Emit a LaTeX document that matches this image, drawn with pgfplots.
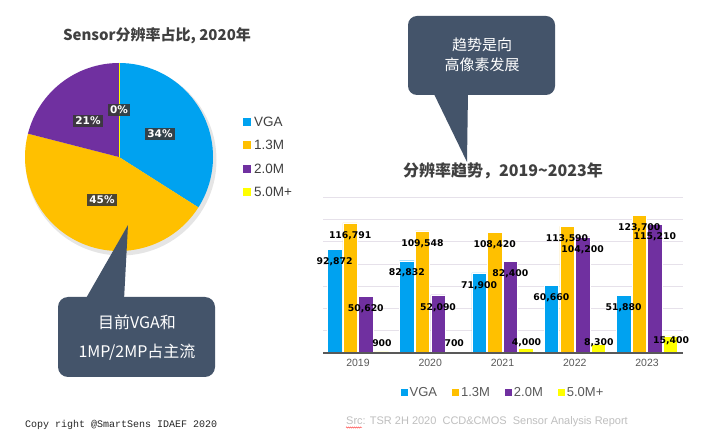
\documentclass[border=0pt]{standalone}
\usepackage{fontspec}
\setmainfont{Liberation Sans}
\newfontfamily\cjk{Noto Sans CJK SC}
\newfontfamily\dejavu{DejaVu Sans}
\newfontfamily\mono{Liberation Mono}
\usepackage{pgfplots}
\pgfplotsset{compat=1.18}
\usetikzlibrary{decorations.pathmorphing}
\definecolor{vga}{HTML}{00A2F0}
\definecolor{mp13}{HTML}{FFC000}
\definecolor{mp20}{HTML}{7030A0}
\definecolor{mp50}{HTML}{FFFF00}
\definecolor{callc}{HTML}{44546A}
\definecolor{textc}{HTML}{404040}
\definecolor{tickc}{HTML}{595959}
\definecolor{gridc}{HTML}{E6E1EA}
\definecolor{srcc}{HTML}{BFBFBF}
\begin{document}
\begin{tikzpicture}
\useasboundingbox (0,0) rectangle (720pt,439pt);
\fill[white] (0,0) rectangle (720pt,439pt);
% ---------- pie chart (2020 shares, %) ----------
\fill[black,opacity=0.10] (121pt,279pt) circle (95.5pt);
\fill[vga]  (119pt,282pt) -- ++(90:94pt) arc[start angle=90, end angle=-32.4, radius=94pt] -- cycle;
\fill[mp13] (119pt,282pt) -- ++(-32.4:94pt) arc[start angle=-32.4, end angle=-194.4, radius=94pt] -- cycle;
\fill[mp20] (119pt,282pt) -- ++(-194.4:94pt) arc[start angle=-194.4, end angle=-270, radius=94pt] -- cycle;
\draw[mp50, line width=1pt] (119pt,282pt) -- ++(90:94pt);
\tikzset{pielbl/.style={fill=black!78, fill opacity=0.9, text opacity=1, text=white, font=\dejavu\bfseries\fontsize{10.5}{12}\selectfont, inner xsep=2pt, inner ysep=1.8pt}}
\node[pielbl] at (160pt,305pt) {34\%};
\node[pielbl] at (102pt,239pt) {45\%};
\node[pielbl] at (88pt,318pt) {21\%};
\node[pielbl] at (119pt,329pt) {0\%};
\node[font=\cjk\bfseries\fontsize{15}{18}\selectfont, text=textc] at (157pt,403pt) {Sensor分辨率占比, 2020年};
% pie legend
\fill[vga]  (243pt,313pt) rectangle (251pt,321pt);
\fill[mp13] (243pt,290pt) rectangle (251pt,298pt);
\fill[mp20] (243pt,266pt) rectangle (251pt,274pt);
\fill[mp50] (243pt,243pt) rectangle (251pt,251pt);
\tikzset{plg/.style={anchor=west, inner sep=0pt, text=textc, font=\fontsize{13.5}{15}\selectfont}}
\node[plg] at (254pt,317pt) {VGA};
\node[plg] at (254pt,294pt) {1.3M};
\node[plg] at (254pt,270pt) {2.0M};
\node[plg] at (254pt,247pt) {5.0M+};
% ---------- callouts ----------
\fill[callc, rounded corners=9pt] (408pt,344pt) rectangle (555pt,423pt);
\fill[callc] (433pt,347pt) -- (468pt,347pt) -- (467pt,277pt) -- cycle;
\node[text=white, font=\cjk\fontsize{15}{20}\selectfont, align=center] at (482pt,384pt) {趋势是向\\高像素发展};
\fill[callc, rounded corners=10pt] (58pt,62pt) rectangle (215pt,142pt);
\fill[callc] (85pt,139pt) -- (124pt,139pt) -- (128pt,214pt) -- cycle;
\node[text=white, font=\cjk\fontsize{16}{29}\selectfont, align=center] at (137pt,101.5pt) {目前VGA和\\1MP/2MP占主流};
% ---------- bar chart ----------
\node[font=\cjk\bfseries\fontsize{16}{19}\selectfont, text=textc] at (503pt,268pt) {分辨率趋势，2019\textasciitilde 2023年};
\begin{axis}[
  at={(323pt,86pt)}, anchor=south west, scale only axis,
  width=360pt, height=156pt,
  ybar=1.1pt, bar width=0.2,
  xmin=-0.484, xmax=4.498, ymin=0, ymax=140000,
  xtick=data, xticklabels={2019,2020,2021,2022,2023},
  ytick={0,20000,40000,60000,80000,100000,120000,140000}, yticklabels={},
  scaled y ticks=false,
  ymajorgrids, grid style={draw=gridc, line width=0.7pt},
  axis x line*=bottom, axis y line*=left,
  y axis line style={draw=none},
  x axis line style={draw=none},
  major tick length=0pt,
  xticklabel style={font=\fontsize{10.5}{12}\selectfont, text=tickc, yshift=-3pt},
  /pgf/number format/assume math mode=true,
  /pgf/number format/fixed, /pgf/number format/precision=0,
  /pgf/number format/1000 sep={,},
  nodes near coords style={font=\dejavu\bfseries\fontsize{9.3}{11}\selectfont, text=black, anchor=center, yshift=-12.5pt},
  clip=false,
  legend columns=4,
  legend style={at={(0.5,-0.256)}, anchor=center, draw=none, fill=none,
    font=\fontsize{13}{15}\selectfont, text=tickc,
    /tikz/every even column/.append style={column sep=13pt}},
  legend image code/.code={\fill[#1, draw=none] (0pt,-3.5pt) rectangle (7pt,3.5pt);},
]
\addplot[fill=vga, draw=white, line width=0.4pt, nodes near coords] coordinates {(0,92872) (1,82832) (2,71900) (3,60660) (4,51880)};
\addplot[fill=mp13, draw=white, line width=0.4pt, nodes near coords] coordinates {(0,116791) (1,109548) (2,108420) (3,113590) (4,123700)};
\addplot[fill=mp20, draw=white, line width=0.4pt, nodes near coords] coordinates {(0,50620) (1,52090) (2,82400) (3,104200) (4,115210)};
\addplot[fill=mp50, draw=white, line width=0.4pt] coordinates {(0,900) (1,700) (2,4000) (3,8300) (4,15400)};
\legend{VGA,1.3M,2.0M,5.0M+}
\draw[tickc, line width=1.3pt] (rel axis cs:0,0) -- (rel axis cs:1,0);
\tikzset{flbl/.style={font=\dejavu\bfseries\fontsize{9.3}{11}\selectfont, text=black}}
\node[flbl] at ([xshift=24pt]axis cs:0,9000) {900};
\node[flbl] at ([xshift=24pt]axis cs:1,9000) {700};
\node[flbl] at ([xshift=24pt]axis cs:2,9000) {4,000};
\node[flbl] at ([xshift=24pt]axis cs:3,9000) {8,300};
\node[flbl] at ([xshift=24pt]axis cs:4,10800) {15,400};
\end{axis}
% ---------- footnotes ----------
\node[anchor=west, inner sep=0pt, font=\mono\fontsize{10}{12}\selectfont, text=black!85] at (25pt,14pt) {Copy right @SmartSens IDAEF 2020};
\node[anchor=west, inner sep=0pt, font=\fontsize{11}{13}\selectfont, text=srcc] at (346pt,17pt) {Src: TSR 2H 2020\ \ CCD\&CMOS\ \ Sensor Analysis Report};
\draw[red!80, line width=0.4pt, decorate, decoration={snake, amplitude=0.6pt, segment length=2pt}] (346pt,11.5pt) -- (362pt,11.5pt);
\end{tikzpicture}
\end{document}
